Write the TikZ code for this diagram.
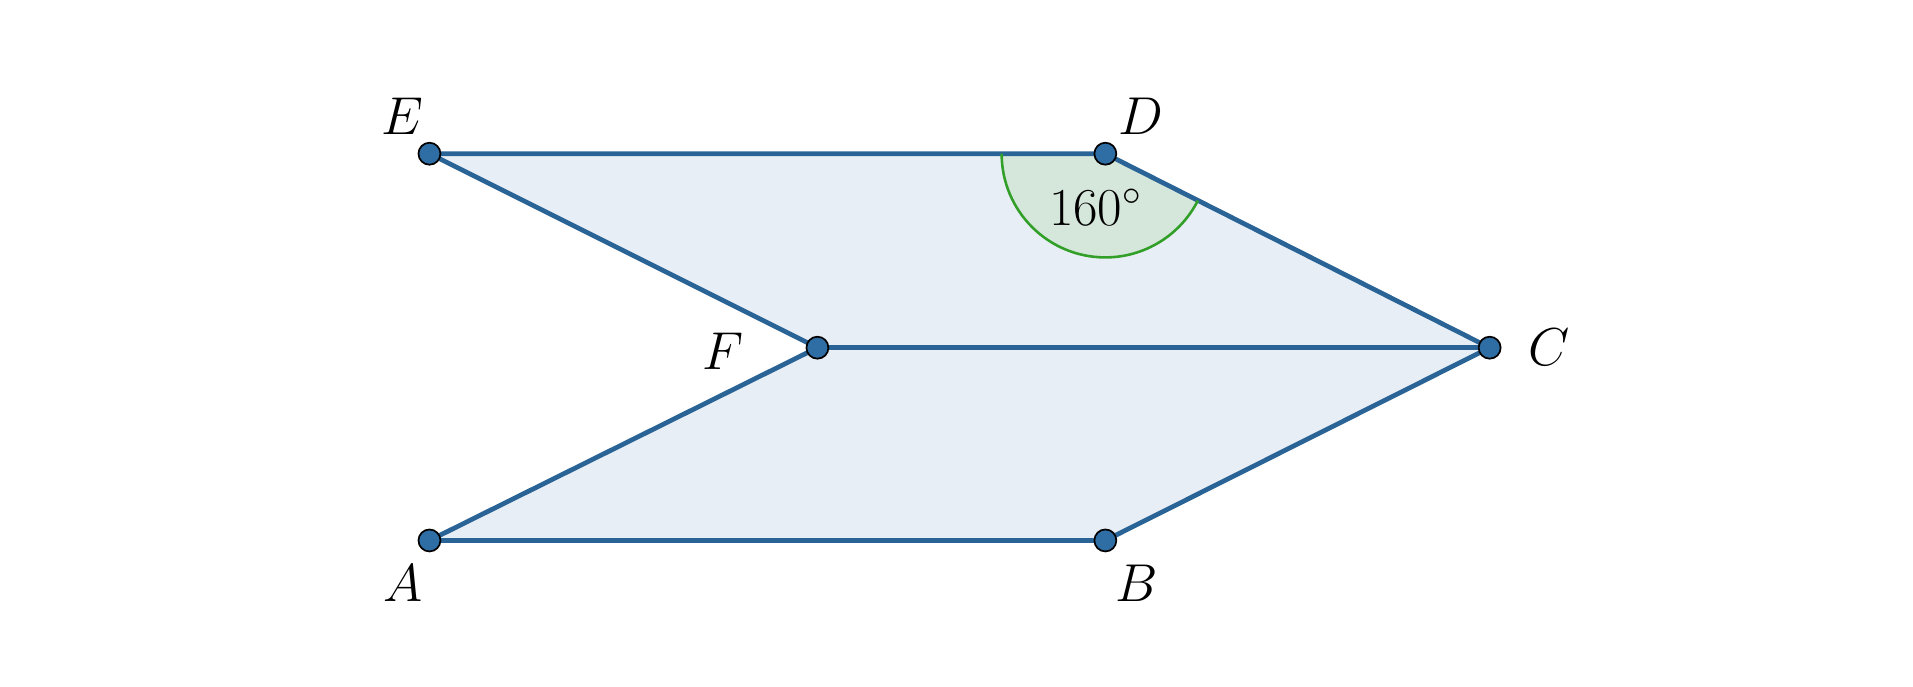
\documentclass[tikz,border=0pt]{standalone}
\definecolor{lnc}{RGB}{42,100,150}
\definecolor{ptc}{RGB}{47,110,165}
\definecolor{bgc}{RGB}{232,238,245}
\definecolor{agf}{RGB}{213,230,218}
\definecolor{agd}{RGB}{50,160,40}
\begin{document}
\begin{tikzpicture}[x=0.02cm,y=0.02cm,
  ln/.style={draw=lnc,line width=2.2pt},
  pt/.style={circle,draw=black,line width=0.8pt,fill=ptc,inner sep=0pt,minimum size=0.36cm},
  lb/.style={font=\fontsize{24}{28}\selectfont}]
\useasboundingbox (0,0) rectangle (1568,563);
\coordinate (e) at (352,437); \coordinate (d) at (906,437); \coordinate (c) at (1221,278);
\coordinate (f) at (670,278); \coordinate (a) at (352,120); \coordinate (b) at (906,120);
\fill[bgc] (a)--(b)--(c)--(d)--(e)--(f)--cycle;
\fill[agf] (d) -- ++(180:85) arc[start angle=180,end angle=333.2,radius=85] -- cycle;
\draw[ln] (e)--(d)--(c)--(b)--(a)--(f)--(e);
\draw[ln] (f)--(c);
\draw[draw=agd,line width=1.2pt] (d) ++(180:85) arc[start angle=180,end angle=333.2,radius=85];
\node[pt] (E) at (e) {}; \node[pt] (D) at (d) {}; \node[pt] (C) at (c) {};
\node[pt] (F) at (f) {}; \node[pt] (A) at (a) {}; \node[pt] (B) at (b) {};
\node[lb] (lE) at (330,468) {$E$}; \node[lb] (lD) at (935,468) {$D$};
\node[lb] (lC) at (1270,278) {$C$}; \node[lb] (lF) at (593,275) {$F$};
\node[lb] (lA) at (330,85) {$A$}; \node[lb] (lB) at (932,85) {$B$};
\node[lb] (ang) at (898,393) {$160^\circ$};
\end{tikzpicture}
\end{document}
